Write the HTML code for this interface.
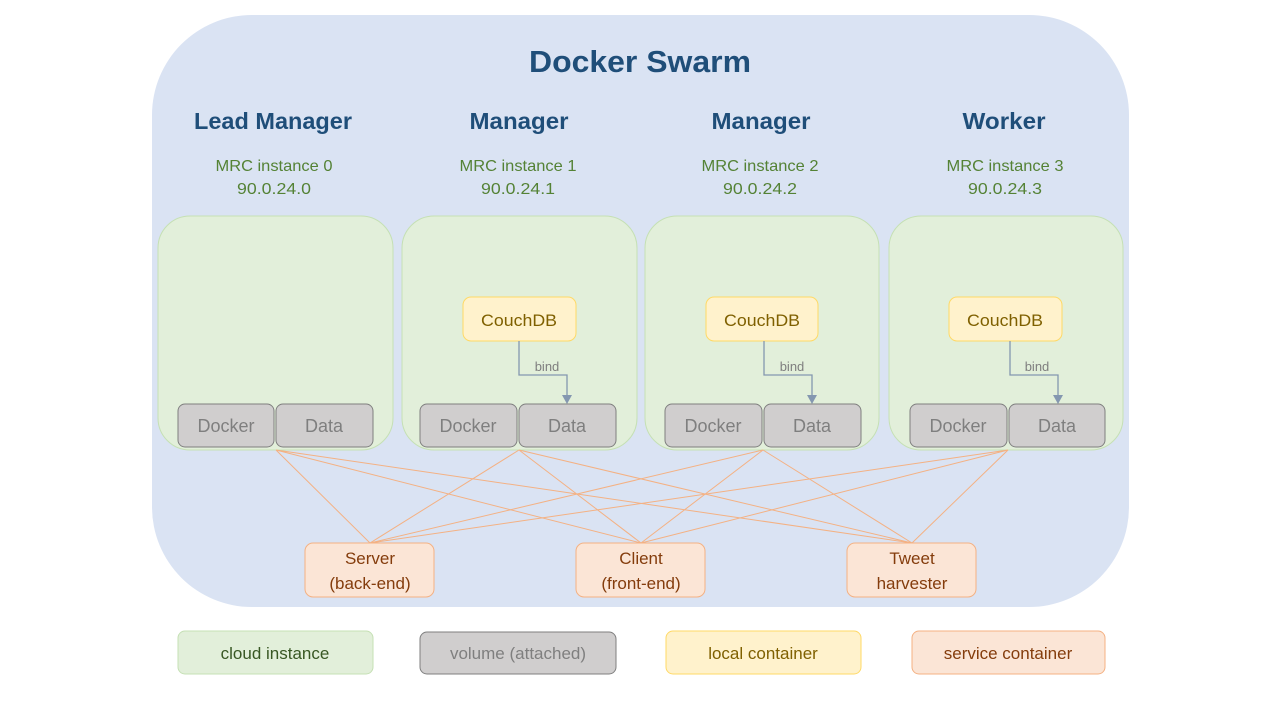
<!DOCTYPE html>
<html><head><meta charset="utf-8"><style>
html,body{margin:0;padding:0;background:#fff;}
svg{display:block;font-family:"Liberation Sans",sans-serif;}
</style></head><body>
<svg width="1280" height="720" viewBox="0 0 1280 720" xmlns="http://www.w3.org/2000/svg">
<rect x="152" y="15" width="977" height="592" rx="100" ry="100" fill="#dae3f3"/>
<text x="640" y="72" text-anchor="middle" font-size="31" font-weight="bold" fill="#1f4e79" textLength="222" lengthAdjust="spacingAndGlyphs">Docker Swarm</text>
<g font-size="23" font-weight="bold" fill="#1f4e79" text-anchor="middle">
<text x="273" y="129" textLength="158" lengthAdjust="spacingAndGlyphs">Lead Manager</text>
<text x="519" y="129" textLength="99" lengthAdjust="spacingAndGlyphs">Manager</text>
<text x="761" y="129" textLength="99" lengthAdjust="spacingAndGlyphs">Manager</text>
<text x="1004" y="129" textLength="83" lengthAdjust="spacingAndGlyphs">Worker</text>
</g>
<g font-size="16" fill="#548235" text-anchor="middle">
<text x="274" y="171" textLength="117" lengthAdjust="spacingAndGlyphs">MRC instance 0</text>
<text x="274" y="194" textLength="74" lengthAdjust="spacingAndGlyphs">90.0.24.0</text>
<text x="518" y="171" textLength="117" lengthAdjust="spacingAndGlyphs">MRC instance 1</text>
<text x="518" y="194" textLength="74" lengthAdjust="spacingAndGlyphs">90.0.24.1</text>
<text x="760" y="171" textLength="117" lengthAdjust="spacingAndGlyphs">MRC instance 2</text>
<text x="760" y="194" textLength="74" lengthAdjust="spacingAndGlyphs">90.0.24.2</text>
<text x="1005" y="171" textLength="117" lengthAdjust="spacingAndGlyphs">MRC instance 3</text>
<text x="1005" y="194" textLength="74" lengthAdjust="spacingAndGlyphs">90.0.24.3</text>
</g>
<g fill="#e2efda" stroke="#c5e0b4" stroke-width="1">
<rect x="158" y="216" width="235" height="234" rx="32"/>
<rect x="402" y="216" width="235" height="234" rx="32"/>
<rect x="645" y="216" width="234" height="234" rx="32"/>
<rect x="889" y="216" width="234" height="234" rx="32"/>
</g>
<g fill="#fff2cc" stroke="#ffd966" stroke-width="1">
<rect x="463" y="297" width="113" height="44" rx="8"/>
<rect x="706" y="297" width="112" height="44" rx="8"/>
<rect x="949" y="297" width="113" height="44" rx="8"/>
</g>
<g font-size="17" fill="#7f6000" text-anchor="middle">
<text x="519" y="326" textLength="76" lengthAdjust="spacingAndGlyphs">CouchDB</text>
<text x="762" y="326" textLength="76" lengthAdjust="spacingAndGlyphs">CouchDB</text>
<text x="1005" y="326" textLength="76" lengthAdjust="spacingAndGlyphs">CouchDB</text>
</g>
<g fill="none" stroke="#8497b0" stroke-width="1.3">
<path d="M519 341 V375 H567 V397"/>
<path d="M764 341 V375 H812 V397"/>
<path d="M1010 341 V375 H1058 V397"/>
</g>
<g fill="#8497b0">
<path d="M562 395 L572 395 L567 404 Z"/>
<path d="M807 395 L817 395 L812 404 Z"/>
<path d="M1053 395 L1063 395 L1058 404 Z"/>
</g>
<g font-size="13" fill="#7f7f7f" text-anchor="middle">
<text x="547" y="371">bind</text>
<text x="792" y="371">bind</text>
<text x="1037" y="371">bind</text>
</g>
<g fill="#d0cece" stroke="#7f7f7f" stroke-width="1">
<rect x="178" y="404" width="96" height="43" rx="7"/>
<rect x="276" y="404" width="97" height="43" rx="7"/>
<rect x="420" y="404" width="97" height="43" rx="7"/>
<rect x="519" y="404" width="97" height="43" rx="7"/>
<rect x="665" y="404" width="97" height="43" rx="7"/>
<rect x="764" y="404" width="97" height="43" rx="7"/>
<rect x="910" y="404" width="97" height="43" rx="7"/>
<rect x="1009" y="404" width="96" height="43" rx="7"/>
</g>
<g font-size="18" fill="#7f7f7f" text-anchor="middle">
<text x="226" y="432">Docker</text><text x="324" y="432">Data</text>
<text x="468" y="432">Docker</text><text x="567" y="432">Data</text>
<text x="713" y="432">Docker</text><text x="812" y="432">Data</text>
<text x="958" y="432">Docker</text><text x="1057" y="432">Data</text>
</g>
<g stroke="#f4b183" stroke-width="1" fill="none">
<path d="M276 450 L370 543 M276 450 L641 543 M276 450 L912 543"/>
<path d="M519 450 L370 543 M519 450 L641 543 M519 450 L912 543"/>
<path d="M763 450 L370 543 M763 450 L641 543 M763 450 L912 543"/>
<path d="M1008 450 L370 543 M1008 450 L641 543 M1008 450 L912 543"/>
</g>
<g fill="#fbe5d6" stroke="#f4b183" stroke-width="1">
<rect x="305" y="543" width="129" height="54" rx="8"/>
<rect x="576" y="543" width="129" height="54" rx="8"/>
<rect x="847" y="543" width="129" height="54" rx="8"/>
</g>
<g font-size="17" fill="#843c0c" text-anchor="middle">
<text x="370" y="564">Server</text><text x="370" y="589">(back-end)</text>
<text x="641" y="564">Client</text><text x="641" y="589">(front-end)</text>
<text x="912" y="564">Tweet</text><text x="912" y="589">harvester</text>
</g>
<rect x="178" y="631" width="195" height="43" rx="7" fill="#e2efda" stroke="#c5e0b4"/>
<rect x="420" y="632" width="196" height="42" rx="7" fill="#d0cece" stroke="#7f7f7f"/>
<rect x="666" y="631" width="195" height="43" rx="7" fill="#fff2cc" stroke="#ffd966"/>
<rect x="912" y="631" width="193" height="43" rx="7" fill="#fbe5d6" stroke="#f4b183"/>
<g font-size="17" text-anchor="middle">
<text x="275" y="659" fill="#385723">cloud instance</text>
<text x="518" y="659" fill="#7f7f7f">volume (attached)</text>
<text x="763" y="659" fill="#7f6000">local container</text>
<text x="1008" y="659" fill="#843c0c">service  container</text>
</g>
</svg>
</body></html>
